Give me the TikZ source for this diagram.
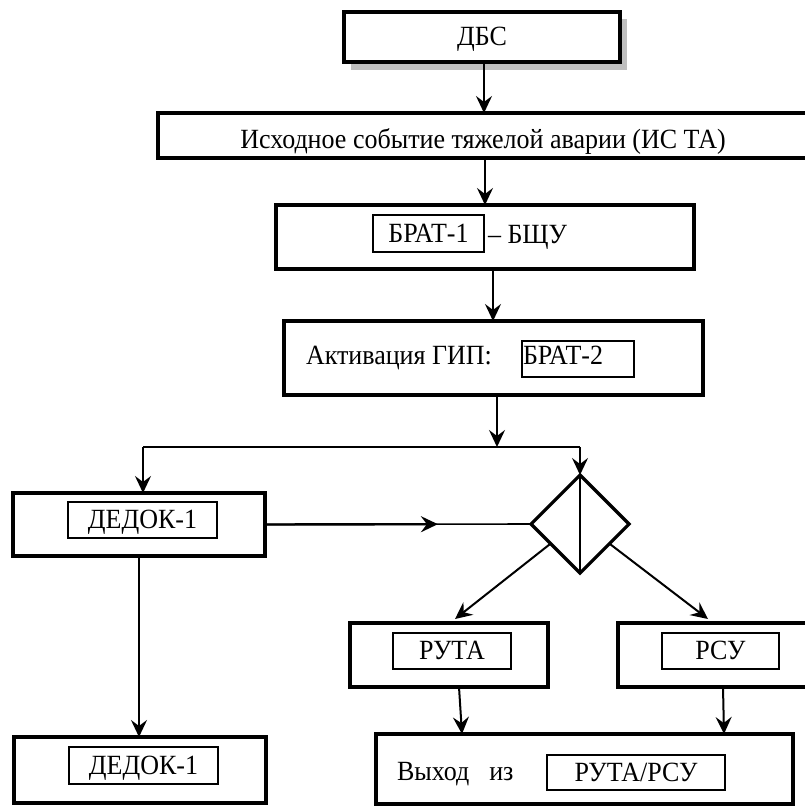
\documentclass[tikz,border=0pt]{standalone}
\usepackage{fontspec}
\setmainfont{Liberation Serif}
\usetikzlibrary{arrows.meta,shapes.geometric,calc}
\newcommand{\tallt}[1]{\scalebox{1}[1.07]{#1}}
\begin{document}
\begin{tikzpicture}[x=1bp,y=-1bp,
  font=\fontsize{26bp}{30bp}\selectfont,
  outerbox/.style={draw,line width=3.8bp,inner sep=0pt,outer sep=0pt,fill=white},
  innerbox/.style={draw,line width=2.8bp,inner sep=0pt,outer sep=0pt,text height=17bp,text depth=0pt},
  lbl/.style={inner sep=0pt,outer sep=0pt},
  tip/.style={-{Stealth[length=17bp,width=16bp,inset=6bp]}},
  conn/.style={line width=2bp,tip}]
\useasboundingbox (0,0) rectangle (805,809);
% shadow of the top box
\fill[gray!50] (351,19) rectangle (627,70);
\node[outerbox,line width=4.6bp,minimum width=276bp,minimum height=50bp,text height=17bp,text depth=0pt] (dbs) at (482,37) {\tallt{ДБС}};
\node[outerbox,minimum width=650bp,minimum height=45bp,text height=25bp,text depth=0pt] (ista) at (483,135.5) {\tallt{Исходное событие тяжелой аварии (ИС ТА)}};
% BRAT-1
\node[outerbox,minimum width=418bp,minimum height=64bp] (bratbox) at (485,237) {};
\node[innerbox,minimum width=111bp,minimum height=37bp] (brat1) at (428.5,233.5) {\tallt{БРАТ-1}};
\node[lbl,anchor=base west] (bshu) at (488,243) {\tallt{– БЩУ}};
% activation
\node[outerbox,minimum width=419bp,minimum height=74bp] (akt) at (493.5,358) {};
\node[lbl,anchor=base west] (akttext) at (306,364) {\tallt{Активация ГИП:}};
\node[innerbox,minimum width=112bp,minimum height=36bp] (brat2) at (578,359) {};
\node[lbl,anchor=base west] (brat2t) at (523,364) {\tallt{БРАТ-2}};
% DEDOK
\node[outerbox,minimum width=252bp,minimum height=63bp] (dedok1) at (139,524.5) {};
\node[innerbox,minimum width=149bp,minimum height=36bp] (dedok1i) at (142.5,520) {\tallt{ДЕДОК-1}};
\node[outerbox,minimum width=252bp,minimum height=66bp] (dedok2) at (140,770) {};
\node[innerbox,minimum width=149bp,minimum height=37bp] (dedok2i) at (143.5,765.5) {\tallt{ДЕДОК-1}};
% diamond
\node[draw,diamond,aspect=1,line width=3.2bp,minimum width=98bp,minimum height=98bp,inner sep=0pt,outer sep=0pt] (dia) at (580,524) {};
% RUTA / RSU
\node[outerbox,minimum width=198bp,minimum height=64bp] (ruta) at (449,655) {};
\node[innerbox,minimum width=118bp,minimum height=36bp] (rutai) at (452,651) {\tallt{РУТА}};
\node[outerbox,minimum width=192bp,minimum height=64bp] (rsu) at (714,655) {};
\node[innerbox,minimum width=117bp,minimum height=36bp] (rsui) at (720.5,651) {\tallt{РСУ}};
% exit
\node[outerbox,minimum width=417bp,minimum height=70bp] (exit) at (584.5,769) {};
\node[lbl,anchor=base west] (exitt) at (397,780) {\tallt{Выход\hspace{20bp}из}};
\node[innerbox,minimum width=178bp,minimum height=35bp] (exiti) at (636,772.5) {\tallt{РУТА/РСУ}\hspace{8bp}};
% connectors
\coordinate (jl) at (143,447);
\coordinate (jr) at (580,447);
\draw[conn] (dbs.south -| 484,0) -- (ista.north -| 484,0);
\draw[conn] (ista.south -| 485,0) -- (bratbox.north -| 485,0);
\draw[conn] (bratbox.south -| 493,0) -- (akt.north -| 493,0);
\draw[conn] ([xshift=3.5bp]akt.south) -- ([xshift=3.5bp]akt.south |- jl);
\draw[line width=1.6bp] (jl) -- (jr);
\draw[conn] (jl) -- (jl |- dedok1.north);
\draw[conn] (jr) -- (dia.north);
\draw[line width=2bp] (dia.north) -- (dia.south);
\draw[line width=1.6bp] (dedok1.east) -- (dia.west);
\draw[line width=2.4bp,tip] (dedok1.east) -- ($(dedok1.east)!0.65!(dia.west)$);
\draw[conn] (dedok1.south) -- (dedok1.south |- dedok2.north);
\draw[conn] ($(dia.west)!0.4!(dia.south)$) -- ($(ruta.north)+(6,-4)$);
\draw[conn] ($(dia.east)!0.4!(dia.south)$) -- ($(rsu.north)+(-6,-4)$);
\draw[conn] ([xshift=10bp]ruta.south) -- ([xshift=13bp]ruta.south |- exit.north);
\draw[conn] ([xshift=9bp]rsu.south) -- ([xshift=10bp]rsu.south |- exit.north);
\end{tikzpicture}
\end{document}
